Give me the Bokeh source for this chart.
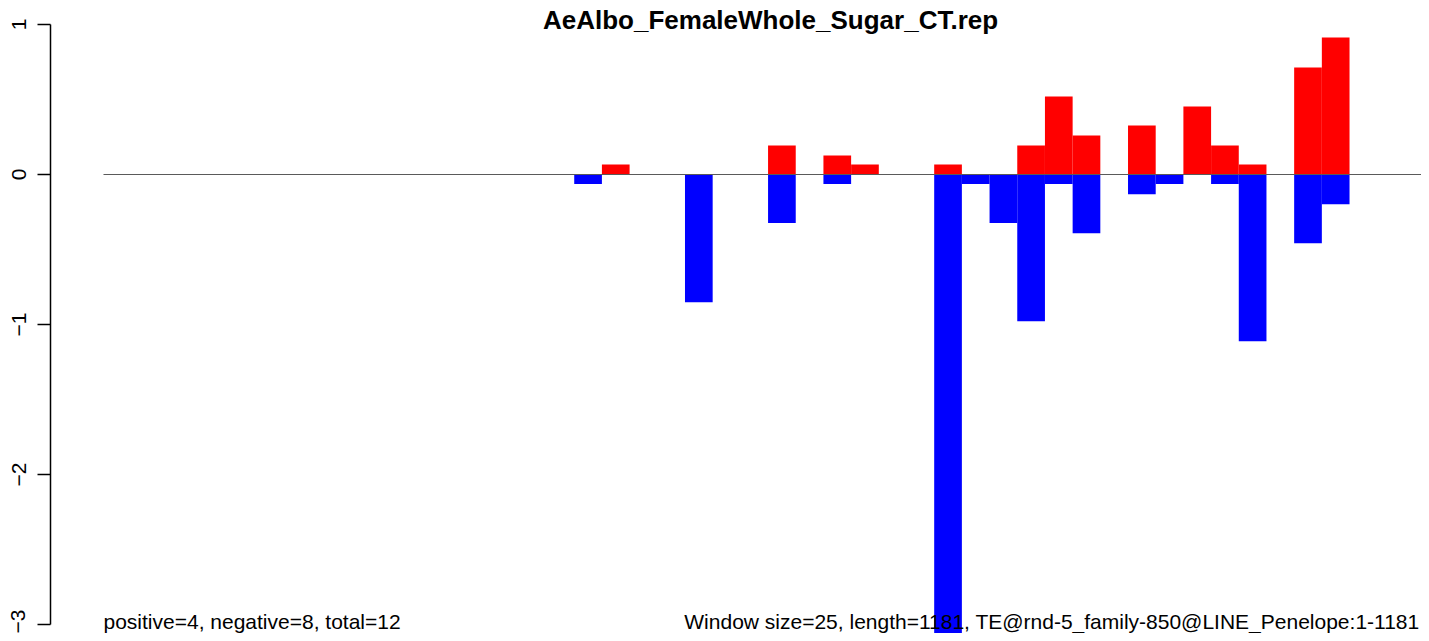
from bokeh.plotting import figure
from bokeh.models import Range1d, FixedTicker, Label, ColumnDataSource
from bokeh.embed import file_html
from bokeh.resources import INLINE

# ---- data ----
title_text = "AeAlbo_FemaleWhole_Sugar_CT.rep"
n_windows = 48  # length 1181, window size 25
pos_windows = [18, 24, 26, 27, 30, 33, 34, 35, 37, 39, 40, 41, 43, 44]
pos_values = [0.067, 0.193, 0.127, 0.067, 0.067, 0.193, 0.520, 0.260, 0.327,
              0.453, 0.193, 0.067, 0.713, 0.913]
neg_windows = [17, 21, 24, 26, 30, 31, 32, 33, 34, 35, 37, 38, 40, 41, 43, 44]
neg_values = [0.064, 0.851, 0.324, 0.064, 3.200, 0.064, 0.324, 0.978, 0.064,
              0.391, 0.131, 0.064, 0.064, 1.111, 0.458, 0.198]
y_ticks = [-3, -2, -1, 0, 1]
left_note = "positive=4, negative=8, total=12"
right_note = "Window size=25, length=1181, TE@rnd-5_family-850@LINE_Penelope:1-1181"

FONT = "Liberation Sans"

p = figure(width=1421, height=633, output_backend="svg", toolbar_location=None,
           x_axis_location=None, y_axis_location="left",
           x_range=Range1d(-1.914, 47.599), y_range=Range1d(-3.06, 1.16),
           min_border_left=50, min_border_right=0, min_border_top=0,
           min_border_bottom=0)
p.outline_line_color = None
p.grid.visible = False
p.background_fill_color = "white"
p.border_fill_color = "white"

ax = p.yaxis[0]
ax.ticker = FixedTicker(ticks=y_ticks)
ax.bounds = (min(y_ticks), max(y_ticks))
ax.major_tick_out = 13
ax.major_tick_in = 0
ax.minor_tick_out = 0
ax.minor_tick_in = 0
ax.axis_line_width = 1.5
ax.major_tick_line_width = 1.5
ax.axis_line_color = "black"
ax.major_tick_line_color = "black"
ax.major_label_orientation = "vertical"
ax.major_label_standoff = 12
ax.major_label_text_font = FONT
ax.major_label_text_font_size = "21px"
ax.major_label_text_color = "black"

pos_src = ColumnDataSource(dict(x=[w + 0.5 for w in pos_windows], top=pos_values,
                                bottom=[0] * len(pos_values)))
neg_src = ColumnDataSource(dict(x=[w + 0.5 for w in neg_windows], top=[0] * len(neg_values),
                                bottom=[-v for v in neg_values]))
p.vbar(x="x", top="top", bottom="bottom", width=1.0, source=pos_src,
       fill_color="#FF0000", line_color=None)
p.vbar(x="x", top="top", bottom="bottom", width=1.0, source=neg_src,
       fill_color="#0000FF", line_color=None)

# zero line across all windows
p.line(x=[0, n_windows], y=[0, 0], line_color="#5a5a5a", line_width=1)

p.add_layout(Label(x=24.09, y=1.0267, text=title_text, text_font=FONT,
                   text_font_size="26px", text_font_style="bold",
                   text_align="center", text_baseline="alphabetic",
                   text_color="black"))
p.add_layout(Label(x=0.0, y=-2.98, text=left_note, text_font=FONT,
                   text_font_size="21px", text_align="left",
                   text_baseline="alphabetic", text_color="black"))
p.add_layout(Label(x=47.53, y=-2.98, text=right_note, text_font=FONT,
                   text_font_size="21px", text_align="right",
                   text_baseline="alphabetic", text_color="black"))

open("out.html", "w").write(file_html(p, INLINE))
